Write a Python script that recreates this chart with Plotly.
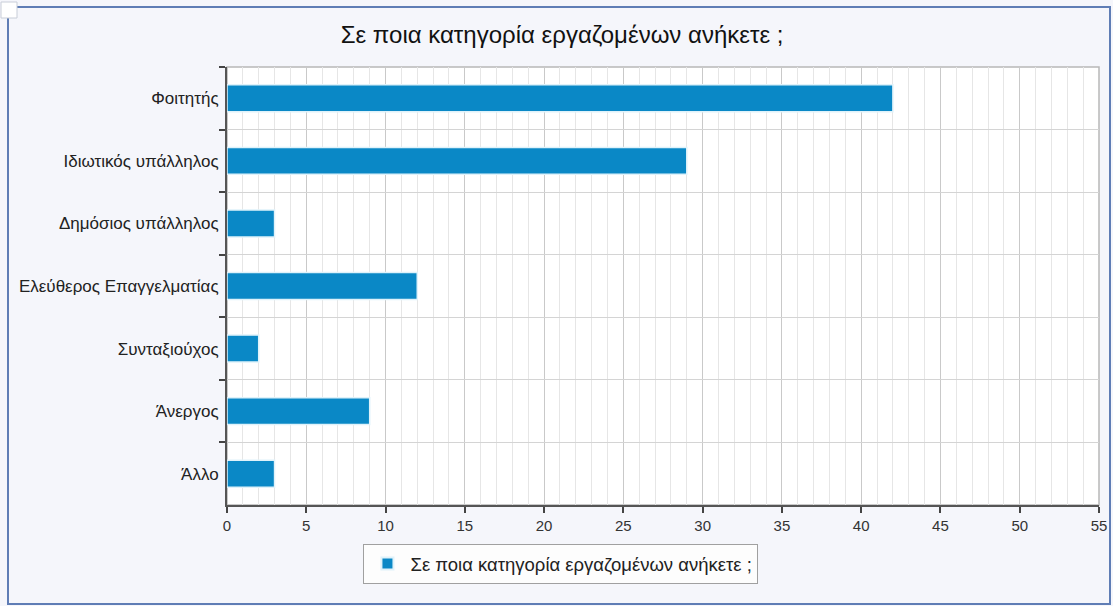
import plotly.graph_objects as go

# Survey answers: employment category of respondents
categories = [
    "Φοιτητής",
    "Ιδιωτικός υπάλληλος",
    "Δημόσιος υπάλληλος",
    "Ελεύθερος Επαγγελματίας",
    "Συνταξιούχος",
    "Άνεργος",
    "Άλλο",
]
counts = [42, 29, 3, 12, 2, 9, 3]
series_name = "Σε ποια κατηγορία εργαζομένων ανήκετε ;"
title_text = "Σε ποια κατηγορία εργαζομένων ανήκετε ;"

W, H = 1113, 606
ML, MR, MT, MB = 227, 14, 67, 101
PW, PH = W - ML - MR, H - MT - MB


def px_x(x):
    return (x - ML) / PW


def px_y(y):
    return (H - MB - y) / PH


FONT = "Liberation Sans, Arial, sans-serif"

fig = go.Figure()
fig.add_trace(go.Bar(
    x=counts,
    y=categories,
    orientation="h",
    name=series_name,
    width=0.43,
    marker=dict(color="#0a88c6", line=dict(color="#dff2fa", width=1.5)),
    showlegend=True,
))

shapes = [
    # outer frame of the chart panel
    dict(type="rect", xref="paper", yref="paper",
         x0=px_x(8), x1=px_x(1110), y0=px_y(604), y1=px_y(7),
         line=dict(color="#5f7db5", width=2), fillcolor="rgba(0,0,0,0)",
         layer="below"),
    # light border of the plotting area
    dict(type="rect", xref="paper", yref="paper", x0=0, x1=1, y0=0, y1=1,
         line=dict(color="#b8b8b8", width=1.5), fillcolor="rgba(0,0,0,0)",
         layer="between"),
    # small corner badge
    dict(type="rect", xref="paper", yref="paper",
         x0=px_x(1), x1=px_x(17), y0=px_y(18), y1=px_y(2),
         line=dict(color="#c8cdd8", width=1), fillcolor="#ffffff",
         layer="above"),
]

fig.update_layout(
    width=W, height=H,
    margin=dict(l=ML, r=MR, t=MT, b=MB, autoexpand=False),
    paper_bgcolor="#f5f6fb",
    plot_bgcolor="#ffffff",
    font=dict(family=FONT, color="#222222", size=14),
    title=dict(text=title_text, x=0.505, xanchor="center", xref="container",
               y=1 - 35 / H, yanchor="middle", yref="container",
               font=dict(size=24, color="#111111")),
    xaxis=dict(
        range=[0, 55], dtick=5, tick0=0,
        showgrid=True, gridcolor="#c9c9c9", gridwidth=1,
        minor=dict(dtick=1, showgrid=True, gridcolor="#e6e6e6", gridwidth=1),
        ticks="outside", ticklen=6, tickcolor="#444444", tickwidth=1.5,
        showline=True, linecolor="#555555", linewidth=2,
        zeroline=False, tickfont=dict(size=15, color="#333333"),
        ticklabelstandoff=0,
        fixedrange=True,
    ),
    yaxis=dict(
        type="category", autorange="reversed",
        tickson="boundaries",
        showgrid=True, gridcolor="#d4d4d4", gridwidth=1,
        ticks="outside", ticklen=6, tickcolor="#444444", tickwidth=1.5,
        showline=True, linecolor="#555555", linewidth=2,
        tickfont=dict(size=17, color="#222222"),
        ticklabelstandoff=3,
        fixedrange=True,
    ),
    legend=dict(
        orientation="h", xref="container", yref="container",
        x=0.504, xanchor="center", y=1 - 564 / H, yanchor="middle",
        bgcolor="#fdfdfd", bordercolor="#a0a0a0", borderwidth=1,
        font=dict(size=18.5, color="#222222"),
        itemsizing="constant", itemwidth=36,
    ),
    shapes=shapes,
    bargap=0.57,
)

fig.write_html("out.html")
